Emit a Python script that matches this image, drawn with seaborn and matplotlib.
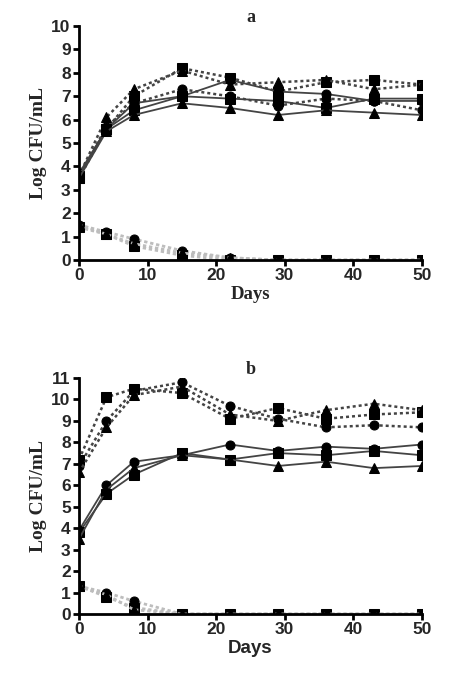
import numpy as np
import pandas as pd
import matplotlib
matplotlib.use('Agg')
import matplotlib.pyplot as plt
import seaborn as sns

sns.set_style('ticks')
plt.rcParams['font.family'] = ['Liberation Sans', 'DejaVu Sans']

days = [0, 4, 8, 15, 22, 29, 36, 43, 50]

# panel a
a_solid_circle = [3.7, 5.6, 6.7, 7.0, 7.7, 7.2, 7.1, 6.8, 6.8]
a_solid_square = [3.6, 5.6, 6.4, 7.0, 6.9, 6.8, 6.5, 6.9, 6.9]
a_solid_triangle = [3.5, 5.5, 6.2, 6.7, 6.5, 6.2, 6.4, 6.3, 6.2]
a_dot_circle = [3.6, 5.7, 6.7, 7.3, 7.0, 6.6, 6.9, 6.8, 6.4]
a_dot_square = [3.5, 5.6, 7.0, 8.2, 7.8, 7.2, 7.6, 7.7, 7.5]
a_dot_triangle = [3.6, 6.1, 7.3, 8.1, 7.5, 7.6, 7.7, 7.3, 7.5]
a_decay_circle = [1.5, 1.2, 0.9, 0.4, 0.1, 0.0, 0.0, 0.0, 0.0]
a_decay_square = [1.4, 1.1, 0.6, 0.2, 0.0, 0.0, 0.0, 0.0, 0.0]
a_decay_triangle = [1.5, 1.1, 0.7, 0.3, 0.1, 0.0, 0.0, 0.0, 0.0]

# panel b
b_solid_circle = [3.9, 6.0, 7.1, 7.4, 7.9, 7.6, 7.8, 7.7, 7.9]
b_solid_square = [3.8, 5.6, 6.5, 7.5, 7.2, 7.5, 7.4, 7.6, 7.4]
b_solid_triangle = [3.5, 5.8, 6.8, 7.4, 7.2, 6.9, 7.1, 6.8, 6.9]
b_dot_circle = [6.9, 9.0, 10.4, 10.8, 9.7, 9.1, 8.7, 8.8, 8.7]
b_dot_square = [7.2, 10.1, 10.5, 10.3, 9.1, 9.6, 9.1, 9.3, 9.4]
b_dot_triangle = [6.6, 8.7, 10.2, 10.6, 9.3, 9.0, 9.5, 9.8, 9.5]
b_decay_circle = [1.3, 1.0, 0.6, 0.0, 0.0, 0.0, 0.0, 0.0, 0.0]
b_decay_square = [1.3, 0.8, 0.3, 0.0, 0.0, 0.0, 0.0, 0.0, 0.0]
b_decay_triangle = [1.3, 0.9, 0.2, 0.0, 0.0, 0.0, 0.0, 0.0, 0.0]

panels = {
    'a': {
        'solid': [(a_solid_circle, 'o'), (a_solid_square, 's'), (a_solid_triangle, '^')],
        'dot': [(a_dot_circle, 'o'), (a_dot_square, 's'), (a_dot_triangle, '^')],
        'decay': [(a_decay_circle, 'o'), (a_decay_square, 's'), (a_decay_triangle, '^')],
    },
    'b': {
        'solid': [(b_solid_circle, 'o'), (b_solid_square, 's'), (b_solid_triangle, '^')],
        'dot': [(b_dot_circle, 'o'), (b_dot_square, 's'), (b_dot_triangle, '^')],
        'decay': [(b_decay_circle, 'o'), (b_decay_square, 's'), (b_decay_triangle, '^')],
    },
}

line_styles = {
    'solid': dict(color='#444444', linestyle='-', linewidth=1.3),
    'dot': dict(color='#444444', linestyle=(0, (1.2, 1.2)), linewidth=1.8),
    'decay': dict(color='#bdbdbd', linestyle=(0, (1.2, 1.0)), linewidth=2.0),
}

fig = plt.figure(figsize=(4.5, 6.79), dpi=100)
ax_a = fig.add_axes([0.1756, 0.617, 0.762, 0.3446])
ax_b = fig.add_axes([0.1756, 0.0957, 0.762, 0.3476])

serif = ['Liberation Serif', 'DejaVu Serif']

for key, ax, ymax in [('a', ax_a, 10), ('b', ax_b, 11)]:
    for kind in ['decay', 'dot', 'solid']:
        for vals, mk in panels[key][kind]:
            df = pd.DataFrame({'Days': days, 'Log': vals})
            sns.lineplot(data=df, x='Days', y='Log', ax=ax, marker=mk,
                         markersize=6.5, markerfacecolor='black',
                         markeredgecolor='black', **line_styles[kind])
    ax.set_xlim(0, 50)
    ax.set_ylim(0, ymax)
    ax.set_xticks(range(0, 51, 10))
    ax.set_yticks(range(0, ymax + 1))
    for s in ['top', 'right']:
        ax.spines[s].set_visible(False)
    for s in ['left', 'bottom']:
        ax.spines[s].set_linewidth(2)
        ax.spines[s].set_color('black')
    ax.tick_params(width=2, length=4, color='black', labelsize=12.5, pad=2)
    for lab in ax.get_xticklabels() + ax.get_yticklabels():
        lab.set_fontweight('bold')
    ax.set_ylabel('Log CFU/mL', family=serif, fontweight='bold', fontsize=14, labelpad=3)
    ax.set_title(key, family=serif, fontweight='bold', fontsize=13, pad=3)

ax_a.set_xlabel('Days', family=serif, fontweight='bold', fontsize=13.5, labelpad=2)
ax_b.set_xlabel('Days', fontweight='bold', fontsize=13.5, labelpad=2)

fig.savefig('out.png', dpi=100)
